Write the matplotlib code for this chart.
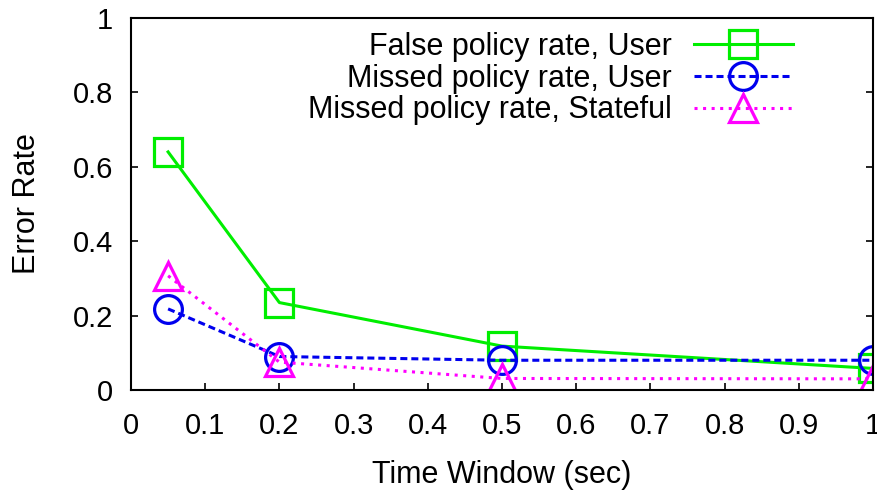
import matplotlib
matplotlib.use("Agg")
import matplotlib.pyplot as plt
from matplotlib.ticker import FuncFormatter

plt.rcParams['font.family'] = ['Liberation Sans', 'DejaVu Sans']

time_window = [0.05, 0.2, 0.5, 1.0]
false_user = [0.64, 0.235, 0.118, 0.058]
missed_user = [0.218, 0.09, 0.08, 0.08]
missed_stateful = [0.307, 0.075, 0.031, 0.03]
labels = ["False policy rate, User", "Missed policy rate, User", "Missed policy rate, Stateful"]
x_ticks = [0, 0.1, 0.2, 0.3, 0.4, 0.5, 0.6, 0.7, 0.8, 0.9, 1.0]
y_ticks = [0, 0.2, 0.4, 0.6, 0.8, 1.0]

fig = plt.figure(figsize=(8.77, 4.93), dpi=100)
ax = fig.add_axes([131 / 877, 103 / 493, 742 / 877, 372 / 493])

ms = 19.5
mew = 2.3
FS = 21
LFS = 22
ax.plot(time_window, false_user, color='#00ee00', lw=2.2, ls='-', marker='s',
        ms=ms, mew=mew, fillstyle='none', label=labels[0])
ax.plot(time_window, missed_user, color='#0000ee', lw=2.2, ls=(0, (2.3, 1.3)), marker='o',
        ms=ms + 0.5, mew=mew, fillstyle='none', label=labels[1])
ax.plot(time_window, missed_stateful, color='#ff00ff', lw=2.2, ls=(0, (1.0, 1.8)), marker='^',
        ms=ms + 0.5, mew=mew, fillstyle='none', label=labels[2])

ax.set_xlim(0, 1)
ax.set_ylim(0, 1)
fmt = FuncFormatter(lambda v, p: ('%g' % round(v, 2)))
ax.set_xticks(x_ticks)
ax.set_yticks(y_ticks)
ax.xaxis.set_major_formatter(fmt)
ax.yaxis.set_major_formatter(fmt)
ax.tick_params(direction='in', length=5, width=1.2, labelsize=FS,
               right=True, top=False)
ax.tick_params(axis='x', pad=16)
ax.tick_params(axis='y', pad=13)
for s in ax.spines.values():
    s.set_linewidth(1.5)
ax.set_xlabel("Time Window (sec)", fontsize=LFS, labelpad=14)
ax.set_ylabel("Error Rate", fontsize=LFS, labelpad=22)

leg = ax.legend(loc='upper right', frameon=False, fontsize=LFS, markerfirst=False,
                handlelength=3.25, labelspacing=0.06, borderaxespad=0.0, borderpad=0.0,
                bbox_to_anchor=(0.892, 0.963), handletextpad=0.72)

fig.savefig("out.png", dpi=100)
